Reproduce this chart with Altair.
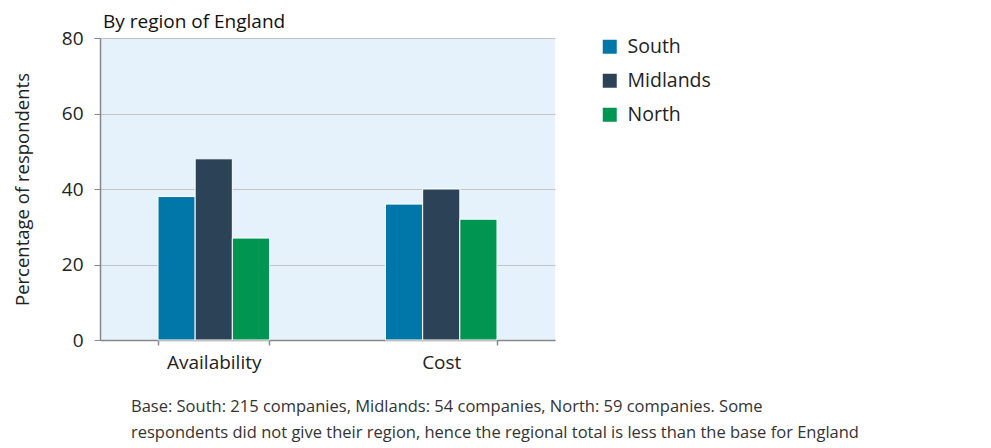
import altair as alt
import pandas as pd

categories = ["Availability", "Cost"]
regions = ["South", "Midlands", "North"]
south = [38, 36]
midlands = [48, 40]
north = [27, 32]
colors = ["#0077a8", "#2c4257", "#009550"]
y_ticks = [0, 20, 40, 60, 80]
footnote = [
    "Base: South: 215 companies, Midlands: 54 companies, North: 59 companies. Some",
    "respondents did not give their region, hence the regional total is less than the base for England",
]

rows = []
for i, c in enumerate(categories):
    for r, vals in zip(regions, [south, midlands, north]):
        rows.append({"category": c, "region": r, "value": vals[i]})
df = pd.DataFrame(rows)

FONT = "Open Sans"

bars = alt.Chart(df).mark_bar(stroke="white", strokeWidth=1).encode(
    x=alt.X("category:N", sort=categories,
            scale=alt.Scale(paddingInner=0.51, paddingOuter=0.255),
            axis=alt.Axis(title=None, labelAngle=0, labelFontSize=19, labelColor="#222",
                          labelPadding=8, tickBand="extent", tickSize=5, tickColor="#888",
                          domainColor="#888", domainWidth=1.5, tickWidth=1.5, grid=False,
                          labelFont=FONT)),
    xOffset=alt.XOffset("region:N", sort=regions, scale=alt.Scale(paddingInner=0, paddingOuter=0)),
    y=alt.Y("value:Q", scale=alt.Scale(domain=[0, 80]),
            axis=alt.Axis(title="Percentage of respondents", values=y_ticks, labelFontSize=19,
                          labelColor="#222", titleFontSize=18.5, titleColor="#222",
                          titleFontWeight="normal", titlePadding=29, labelPadding=11,
                          tickSize=6, tickColor="#888", domainColor="#888", domainWidth=1.5,
                          gridColor="#c4c4c4", gridWidth=1, labelFont=FONT, titleFont=FONT)),
    color=alt.Color("region:N", sort=regions,
                    scale=alt.Scale(domain=regions, range=colors),
                    legend=alt.Legend(title=None, orient="none", legendX=500, legendY=-1,
                                      symbolType="square", symbolSize=196, symbolStrokeWidth=0,
                                      labelFontSize=19.5, labelColor="#222", rowPadding=13,
                                      labelFont=FONT, symbolOpacity=1, labelOffset=8)),
)

note_df = pd.DataFrame({"text": footnote, "line": [0, 1]})
notes = alt.Chart(note_df).mark_text(align="left", baseline="alphabetic", fontSize=16.5,
                                     color="#333", font=FONT).encode(
    x=alt.value(31),
    y=alt.Y("line:Q", axis=None, scale=alt.Scale(domain=[0, 1], range=[374, 400])),
    text="text:N",
)

full = alt.layer(bars, notes).resolve_scale(y="independent").properties(
    width=455, height=302,
    view=alt.ViewBackground(fill="#e6f2fb", stroke=None),
    title=alt.TitleParams("By region of England", anchor="start", fontSize=19,
                          fontWeight=500, color="#111", font=FONT, offset=-3, dx=3,
                          frame="group"),
).configure(font=FONT)

full.save("out.html", embed_options={"renderer": "svg", "actions": False})
